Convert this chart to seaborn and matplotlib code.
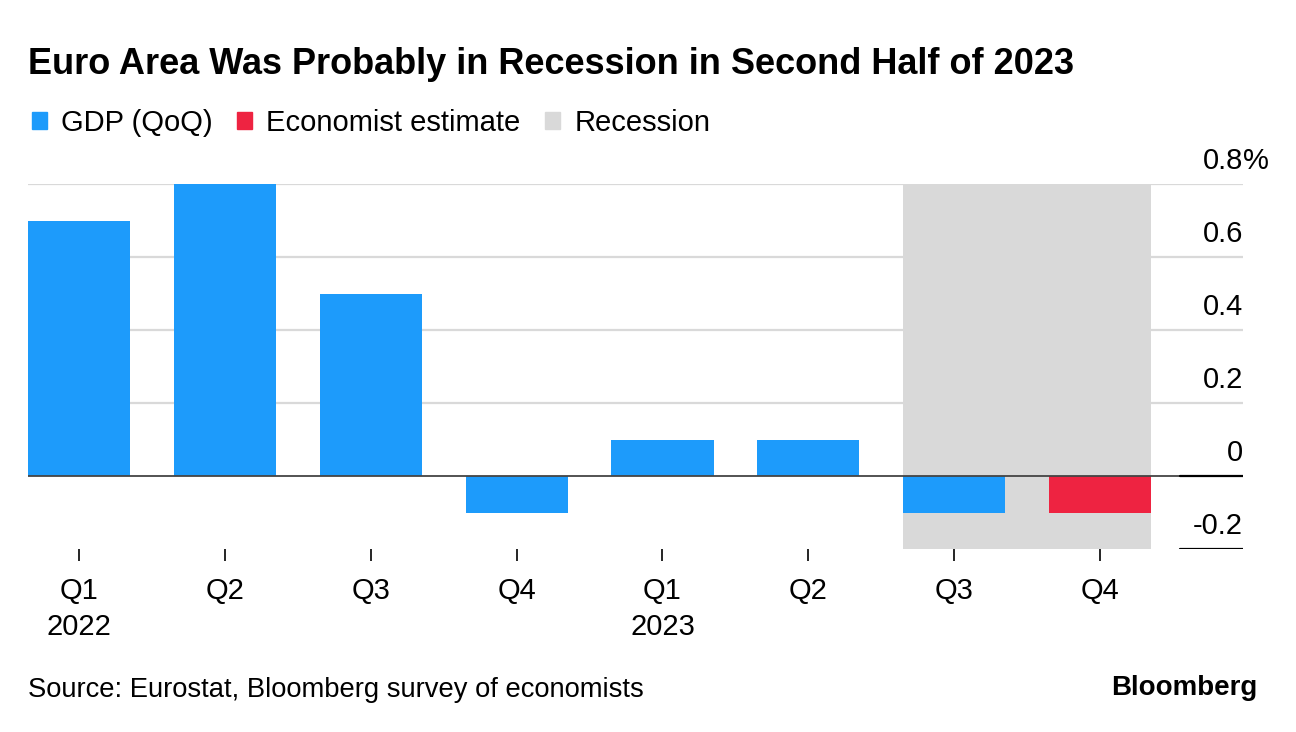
import pandas as pd
import matplotlib.pyplot as plt
import seaborn as sns
from matplotlib.patches import Patch

# quarterly GDP growth, euro area (QoQ, %)
periods = ['Q1 2022', 'Q2 2022', 'Q3 2022', 'Q4 2022',
           'Q1 2023', 'Q2 2023', 'Q3 2023', 'Q4 2023']
gdp = [0.7, 0.8, 0.5, -0.1, 0.1, 0.1, -0.1, -0.1]
series = ['GDP (QoQ)'] * 7 + ['Economist estimate']
tick_labels = ['Q1\n2022', 'Q2', 'Q3', 'Q4', 'Q1\n2023', 'Q2', 'Q3', 'Q4']
recession = ('Q3 2023', 'Q4 2023')
y_ticks = [-0.2, 0, 0.2, 0.4, 0.6, 0.8]
y_labels = ['-0.2', '0', '0.2', '0.4', '0.6', '0.8']

blue = '#1d9bfb'
red = '#ee2341'
gray = '#d9d9d9'

df = pd.DataFrame({'period': periods, 'gdp': gdp, 'series': series})

sns.set_style('white')
plt.rcParams['font.family'] = ['Liberation Sans', 'DejaVu Sans']
plt.rcParams['text.color'] = 'black'
plt.rcParams['xtick.color'] = 'black'
plt.rcParams['ytick.color'] = 'black'

fig = plt.figure(figsize=(12.96, 7.32), dpi=100)
ax = fig.add_axes([28 / 1296, 1 - 549 / 732, (1243 - 28) / 1296, (549 - 184) / 732])

sns.barplot(data=df, x='period', y='gdp', hue='series',
            palette={'GDP (QoQ)': blue, 'Economist estimate': red},
            dodge=False, width=0.7, legend=False, saturation=1, linewidth=0,
            ax=ax, zorder=3)

ax.set_xlim(-0.35, 7.98)
ax.set_ylim(-0.2, 0.8)

# recession shading
r0 = periods.index(recession[0]) - 0.35
r1 = periods.index(recession[1]) + 0.35
ax.axvspan(r0, r1, color=gray, zorder=1, lw=0)

# gridlines
for v in y_ticks:
    if v > 0:
        ax.axhline(v, color=gray, lw=1.6, zorder=0)
ax.axhline(0, color='#444444', lw=1.3, zorder=4)
seg = (1180 - 28) / (1243 - 28)
ax.axhline(0, xmin=seg, xmax=1, color='black', lw=1.6, zorder=4)
ax.axhline(-0.2, xmin=seg, xmax=1, color='black', lw=1.6, zorder=4)

# y labels on the right, above the lines
for v, lab in zip(y_ticks, y_labels):
    ax.annotate(lab, xy=(1, v), xycoords=('axes fraction', 'data'),
                xytext=(0, 11), textcoords='offset points',
                ha='right', va='baseline', fontsize=21, color='black')
ax.annotate('%', xy=(1, y_ticks[-1]), xycoords=('axes fraction', 'data'),
            xytext=(0, 11), textcoords='offset points',
            ha='left', va='baseline', fontsize=21, color='black')
ax.set_yticks([])

ax.set_xticks(range(len(periods)))
ax.set_xticklabels(tick_labels, fontsize=21, linespacing=1.35)
ax.tick_params(axis='x', direction='out', length=8.5, width=1.2,
               color='black', pad=12, bottom=True)
ax.set_xlabel('')
ax.set_ylabel('')
for s in ax.spines.values():
    s.set_visible(False)

fig.text(28 / 1296, 1 - 47 / 732, 'Euro Area Was Probably in Recession in Second Half of 2023',
         fontsize=26, fontweight='heavy', va='top', ha='left')

handles = [Patch(color=blue, label='GDP (QoQ)'),
           Patch(color=red, label='Economist estimate'),
           Patch(color=gray, label='Recession')]
fig.legend(handles=handles, loc='center left', bbox_to_anchor=(32 / 1296, 1 - 123 / 732),
           ncol=3, frameon=False, fontsize=21, handlelength=0.52, handleheight=0.52,
           handletextpad=0.48, columnspacing=0.84, borderaxespad=0, borderpad=0)

fig.text(28 / 1296, 1 - 690 / 732, 'Source: Eurostat, Bloomberg survey of economists',
         fontsize=19.7, va='center', ha='left')
fig.text(1257 / 1296, 1 - 688 / 732, 'Bloomberg', fontsize=20, fontweight='bold',
         va='center', ha='right')

fig.savefig('out.png', dpi=100)
